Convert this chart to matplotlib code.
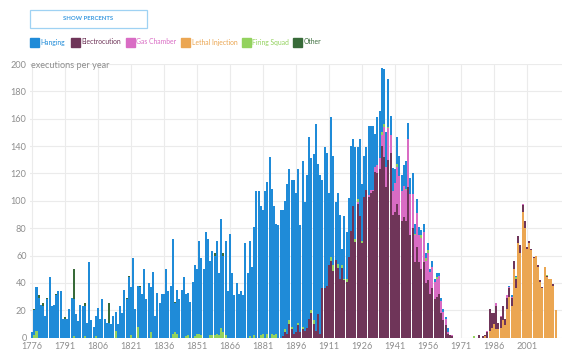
import numpy as np
import matplotlib
matplotlib.use("Agg")
import matplotlib.pyplot as plt
from matplotlib.patches import Rectangle

plt.rcParams['font.family'] = ['Lato', 'DejaVu Sans']

years = np.arange(1776, 2015)

# hanging 1776-1967, then a few modern ones
hanging_1776 = [
    4, 18, 32, 29, 24, 23, 16, 28, 44, 23,
    24, 31, 34, 34, 14, 14, 14, 21, 29, 27,
    17, 12, 24, 23, 22, 11, 55, 13, 8, 15,
    22, 14, 28, 14, 11, 11, 10, 16, 14, 10,
    23, 18, 35, 28, 44, 35, 58, 21, 30, 37,
    32, 50, 28, 40, 33, 48, 16, 33, 25, 32,
    32, 50, 34, 38, 69, 21, 32, 28, 35, 44,
    31, 31, 26, 41, 52, 47, 68, 56, 50, 77,
    72, 54, 61, 58, 68, 45, 80, 56, 69, 34,
    76, 47, 31, 40, 32, 34, 31, 69, 47, 70,
    52, 79, 107, 107, 94, 90, 107, 111, 132, 106,
    94, 80, 82, 93,
    92, 94, 109, 110, 107, 112, 102, 112, 78, 121,
    94, 112, 133, 111, 121, 151, 110, 116, 79, 103,
    97, 53, 102, 80, 42, 52, 47, 12, 46, 34,
    43, 62, 49, 67, 38, 56, 41, 30, 31, 51,
    47, 47, 24, 35, 35, 47, 40, 25, 35, 14,
    17, 10, 20, 15, 12, 15, 20, 12, 12, 15,
    7, 10, 6, 4, 6, 4, 5, 2, 4, 2,
    3, 2, 2, 2, 1, 3, 0, 0,
]
hanging_modern = {1993: 1, 1994: 1, 1996: 1}

electro_1890 = [
    1, 4, 3, 10, 6, 3, 4, 9, 4, 6,
    5, 7, 14, 18, 10, 5, 17, 3, 36, 36,
    38, 53, 56, 49, 57, 51, 43, 51, 42, 41,
    59, 78, 96, 70, 98, 89, 69, 103, 108, 103,
    106, 107, 121, 120, 123, 140, 132, 110, 130, 135,
    90, 92, 98, 90, 85, 88, 85, 110, 75, 80,
    55, 66, 55, 50, 55, 40, 42, 32, 36, 28,
    30, 32, 18, 13, 9, 3, 2, 1,
]
electro_modern = {1979: 2, 1981: 1, 1982: 1, 1983: 4, 1984: 16, 1985: 11, 1986: 8,
                  1987: 17, 1988: 5, 1989: 8, 1990: 10, 1991: 5, 1992: 8, 1993: 6,
                  1994: 6, 1995: 6, 1996: 7, 1997: 5, 1998: 6, 1999: 5, 2000: 5,
                  2001: 1, 2002: 2, 2003: 1, 2004: 1, 2006: 1, 2007: 1, 2008: 1,
                  2010: 1, 2013: 1}

gas_1924 = [
    1, 0, 0, 0, 0, 1,
    2, 1, 4, 6, 8, 8, 22, 15, 23, 13,
    17, 21, 27, 28, 22, 23, 23, 35, 30, 25,
    20, 25, 20, 23, 22, 16, 20, 16, 16, 13,
    13, 13, 9, 6, 5, 1, 0, 1,
]
gas_modern = {1983: 1, 1987: 2, 1989: 1, 1992: 2, 1993: 1, 1994: 1, 1999: 1}

lethal_1982 = [
    1, 0, 5, 7, 10, 6, 6, 7, 13, 9,
    21, 30, 23, 50, 36, 69, 62, 92, 80, 65,
    69, 64, 58, 60, 52, 41, 36, 52, 44, 43,
    43, 38, 20,
]

firing = {1777: 2, 1778: 5, 1795: 1, 1800: 1, 1805: 1, 1814: 5, 1821: 2, 1824: 8,
          1830: 4, 1840: 3, 1841: 4, 1842: 3, 1846: 1, 1847: 2, 1850: 1, 1851: 3,
          1852: 3, 1853: 2, 1857: 2, 1858: 2, 1859: 2, 1860: 3, 1861: 2, 1862: 7,
          1863: 4, 1864: 2, 1875: 1, 1877: 2, 1880: 2, 1881: 3, 1883: 3, 1885: 3,
          1886: 2, 1887: 3, 1891: 2, 1893: 3, 1894: 2, 1897: 2, 1899: 2, 1903: 2,
          1904: 3, 1912: 3, 1913: 4, 1915: 3, 1917: 2, 1918: 1, 1919: 2, 1923: 2,
          1924: 2, 1926: 2, 1935: 2, 1936: 2, 1938: 1, 1942: 2, 1946: 1, 1950: 1,
          1953: 2, 1955: 2, 1956: 2, 1960: 1, 1977: 1, 1996: 1, 2010: 1}

other = {1777: 1, 1779: 2, 1781: 2, 1783: 1, 1787: 1, 1791: 1, 1795: 22, 1800: 2,
         1811: 14, 1819: 1, 1820: 1, 1825: 1, 1841: 1, 1859: 2, 1863: 2}


def series(start=None, values=(), extra=None):
    out = np.zeros(len(years))
    if start is not None:
        out[start - 1776:start - 1776 + len(values)] = values
    for y, v in (extra or {}).items():
        out[y - 1776] += v
    return out


# stacking order bottom -> top as in the original
layers = [
    ("Lethal Injection", series(1982, lethal_1982), "#eba652"),
    ("Electrocution", series(1890, electro_1890, electro_modern), "#6f3559"),
    ("Gas Chamber", series(1924, gas_1924, gas_modern), "#d96cc4"),
    ("Firing Squad", series(extra=firing), "#93d25e"),
    ("Hanging", series(1776, hanging_1776, hanging_modern), "#1f8bd8"),
    ("Other", series(extra=other), "#386b39"),
]
legend_order = ["Hanging", "Electrocution", "Gas Chamber", "Lethal Injection", "Firing Squad", "Other"]
colors = {name: c for name, _, c in layers}

W, H = 570, 363
fig = plt.figure(figsize=(W / 100, H / 100), dpi=100)
ax = fig.add_axes([30 / W, (H - 337.7) / H, 532 / W, 273.7 / H])

bottom = np.zeros(len(years))
for name, vals, c in layers:
    ax.bar(years, vals, bottom=bottom, width=0.92, color=c, linewidth=0, zorder=2)
    bottom += vals

ax.set_ylim(0, 200)
ax.set_xlim(1775.05, 2016.9)
ax.set_yticks(range(0, 201, 20))
ax.set_xticks(range(1776, 2002, 15))
ax.tick_params(length=0, labelsize=6.6, labelcolor="#8e8e8e", pad=2.5)
ax.tick_params(axis="x", pad=3)
ax.grid(True, color="#ebebeb", linewidth=0.8, zorder=0)
for s in ax.spines.values():
    s.set_visible(False)
ax.text(1775.6, 200, "executions per year", fontsize=6.6, color="#8e8e8e",
        va="center_baseline", ha="left")

# button
fig.patches.append(Rectangle((30 / W, (H - 28) / H), 117 / W, 18 / H,
                             transform=fig.transFigure, fill=False,
                             edgecolor="#9fd2f3", linewidth=0.9))
fig.text(88.5 / W, (H - 19) / H, "SHOW PERCENTS", fontsize=4.3, fontweight="bold",
         color="#3d9be0", ha="center", va="center")

# legend
lx = [30, 71, 126, 181, 242, 293]
for x, name in zip(lx, legend_order):
    fig.patches.append(Rectangle((x / W, (H - 46.5) / H), 8.5 / W, 8.5 / H,
                                 transform=fig.transFigure, color=colors[name]))
    fig.text((x + 10.5) / W, (H - 42) / H, name, fontsize=4.9, color=colors[name],
             ha="left", va="center")

fig.savefig("out.png", dpi=100, facecolor="white")
